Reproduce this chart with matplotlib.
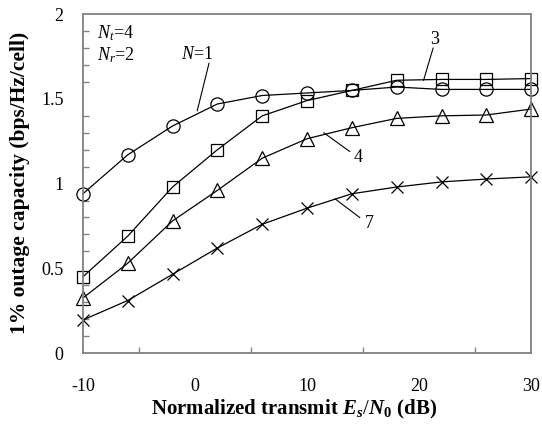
import numpy as np
import matplotlib
matplotlib.use('Agg')
import matplotlib.pyplot as plt

plt.rcParams['font.family'] = ['Liberation Serif', 'DejaVu Serif']
plt.rcParams['mathtext.fontset'] = 'custom'
plt.rcParams['mathtext.rm'] = 'Liberation Serif'
plt.rcParams['mathtext.it'] = 'Liberation Serif:italic'
plt.rcParams['mathtext.bf'] = 'Liberation Serif:bold'
plt.rcParams['mathtext.bfit'] = 'Liberation Serif:italic:bold'
plt.rcParams['axes.unicode_minus'] = False

snr = [-10, -6, -2, 2, 6, 10, 14, 18, 22, 26, 30]  # Es/N0 (dB)
cap_n1 = [0.94, 1.17, 1.34, 1.47, 1.52, 1.535, 1.55, 1.57, 1.556, 1.556, 1.556]
cap_n3 = [0.45, 0.69, 0.98, 1.20, 1.40, 1.49, 1.55, 1.61, 1.615, 1.615, 1.62]
cap_n4 = [0.325, 0.53, 0.78, 0.96, 1.15, 1.265, 1.33, 1.385, 1.40, 1.405, 1.44]
cap_n7 = [0.195, 0.31, 0.465, 0.62, 0.76, 0.855, 0.94, 0.98, 1.01, 1.027, 1.04]

fig = plt.figure(figsize=(5.42, 4.30), dpi=100)
ax = fig.add_axes([0.153, 0.179, 0.827, 0.788])

kw = dict(color='black', lw=0.9, mfc='none', mec='black', mew=0.9, clip_on=False)
ax.plot(snr, cap_n1, marker='o', ms=9.5, **kw)
ax.plot(snr, cap_n3, marker='s', ms=8.5, **kw)
ax.plot(snr, cap_n4, marker='^', ms=9.5, **kw)
ax.plot(snr, cap_n7, marker='x', ms=9, **kw)

ax.set_xlim(-10, 30)
ax.set_ylim(0, 2)
ax.set_xticks([-10, 0, 10, 20, 30])
ax.set_xticks(np.arange(-10, 31, 5), minor=True)
ax.set_yticks([0, 0.5, 1, 1.5, 2])
ax.set_yticklabels(['0', '0.5', '1', '1.5', '2'])
ax.set_yticks(np.arange(0, 2.01, 0.1), minor=True)
ax.tick_params(which='both', direction='in', color='#808080', labelsize=13)
ax.tick_params(axis='x', which='major', length=0, pad=18)
ax.tick_params(axis='y', which='major', length=0, pad=14)
ax.tick_params(which='minor', length=4, width=1)
for s in ax.spines.values():
    s.set_color('#808080')
    s.set_linewidth(1.3)

# labels for the curves
ax.text(-8.75, 1.89, '$N_t$=4', fontsize=13, va='center')
ax.text(-8.75, 1.76, '$N_r$=2', fontsize=13, va='center')
ax.text(0.2, 1.76, '$N$=1', fontsize=13, ha='center', va='center')
ax.plot([1.25, 0.2], [1.71, 1.43], color='black', lw=0.8)
ax.text(21.4, 1.85, '3', fontsize=13, ha='center', va='center')
ax.plot([21.25, 20.4], [1.80, 1.61], color='black', lw=0.8)
ax.text(14.6, 1.155, '4', fontsize=13, ha='center', va='center')
ax.plot([11.5, 13.8], [1.30, 1.19], color='black', lw=0.8)
ax.text(15.6, 0.765, '7', fontsize=13, ha='center', va='center')
ax.plot([12.5, 14.7], [0.91, 0.80], color='black', lw=0.8)

fig.text(0.542, 0.047, r'Normalized transmit $\mathbfit{E}_\mathbfit{s}/\mathbfit{N}_\mathbf{0}$ (dB)',
         fontsize=15, fontweight='bold', ha='center', va='center')
fig.text(0.037, 0.575, '1% outage capacity (bps/Hz/cell)', fontsize=15.5,
         fontweight='bold', rotation=90, ha='center', va='center')

fig.savefig('out.png', dpi=100)
